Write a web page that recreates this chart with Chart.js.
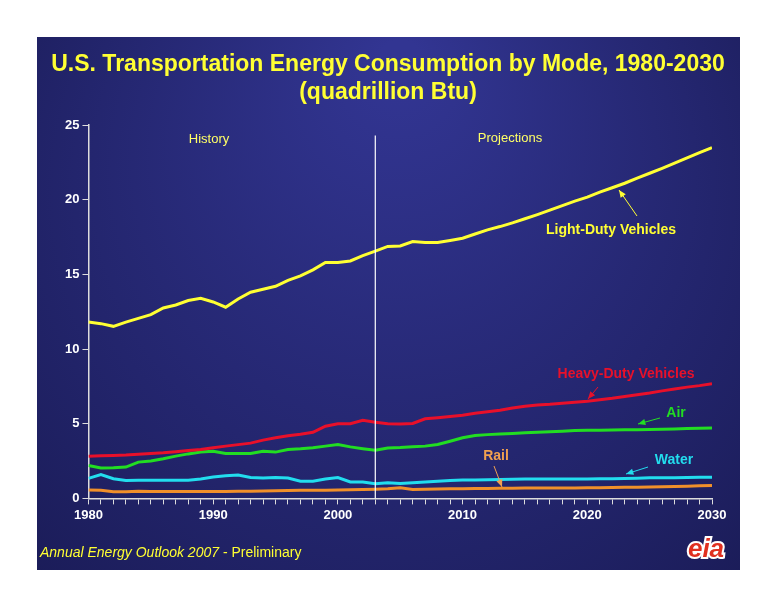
<!DOCTYPE html>
<html><head><meta charset="utf-8">
<script src="https://cdn.jsdelivr.net/npm/chart.js@4.4.1/dist/chart.umd.min.js"></script>
<style>html,body{margin:0;padding:0;background:#fff}</style>
</head><body><canvas id="c" width="776" height="600"></canvas>
<script>
const years=[];for(let y=1980;y<=2030;y++)years.push(y);
const lightDuty=[11.81,11.7,11.52,11.8,12.05,12.3,12.75,12.95,13.25,13.4,13.15,12.8,13.35,13.8,14.0,14.2,14.6,14.9,15.3,15.8,15.8,15.9,16.25,16.55,16.87,16.9,17.2,17.13,17.13,17.27,17.42,17.7,17.98,18.2,18.45,18.72,19.0,19.3,19.6,19.9,20.17,20.5,20.8,21.1,21.45,21.77,22.1,22.45,22.8,23.15,23.48];
const heavyDuty=[2.83,2.85,2.87,2.9,2.95,3.0,3.05,3.12,3.2,3.28,3.39,3.5,3.6,3.7,3.9,4.06,4.2,4.3,4.43,4.83,4.99,5.0,5.23,5.1,5.0,4.98,5.02,5.33,5.4,5.48,5.57,5.7,5.8,5.9,6.05,6.17,6.25,6.3,6.37,6.43,6.5,6.6,6.7,6.82,6.94,7.06,7.2,7.32,7.45,7.55,7.67];
const air=[2.2,2.03,2.05,2.1,2.43,2.5,2.65,2.83,2.98,3.1,3.16,3.0,3.0,3.0,3.16,3.1,3.27,3.32,3.39,3.5,3.61,3.45,3.33,3.22,3.38,3.4,3.45,3.5,3.61,3.83,4.06,4.21,4.27,4.31,4.35,4.39,4.43,4.47,4.5,4.54,4.57,4.57,4.58,4.59,4.6,4.61,4.63,4.65,4.68,4.7,4.72];
const water=[1.34,1.6,1.32,1.2,1.22,1.22,1.22,1.22,1.22,1.3,1.43,1.52,1.56,1.4,1.37,1.4,1.37,1.15,1.15,1.3,1.4,1.1,1.1,0.98,1.05,1.0,1.05,1.1,1.15,1.2,1.23,1.24,1.25,1.27,1.28,1.3,1.3,1.3,1.3,1.3,1.3,1.31,1.32,1.33,1.35,1.38,1.38,1.39,1.4,1.41,1.42];
const rail=[0.56,0.55,0.45,0.45,0.48,0.46,0.46,0.46,0.47,0.47,0.47,0.47,0.48,0.48,0.5,0.52,0.53,0.54,0.55,0.55,0.56,0.58,0.6,0.62,0.65,0.71,0.6,0.62,0.63,0.64,0.65,0.66,0.67,0.68,0.68,0.69,0.69,0.7,0.7,0.7,0.71,0.72,0.73,0.74,0.75,0.76,0.78,0.8,0.82,0.85,0.87];
const yTicks=[0,5,10,15,20,25];
const xLabelYears=[1980,1990,2000,2010,2020,2030];
const splitYear=2003;
const pts=a=>a.map((v,i)=>({x:years[i],y:v}));
const ds=(l,d,c)=>({label:l,data:pts(d),borderColor:c,borderWidth:3,pointRadius:0,tension:0,fill:false});
const deco={id:'deco',
beforeDraw(ch){const c=ch.ctx;c.save();c.fillStyle='#fff';c.fillRect(0,0,776,600);
const g=c.createRadialGradient(400,60,20,388,300,600);g.addColorStop(0,'#323592');g.addColorStop(1,'#15164a');
c.fillStyle=g;c.fillRect(37,37,703,533);
c.textAlign='center';c.textBaseline='middle';c.fillStyle='#ffff33';c.font='bold 23px Arial, "Liberation Sans"';
c.fillText('U.S. Transportation Energy Consumption by Mode, 1980-2030',388,65);c.fillText('(quadrillion Btu)',388,93);
c.restore();},
afterDatasetsDraw(ch){const c=ch.ctx,x=ch.scales.x,y=ch.scales.y;c.save();
const sx=x.getPixelForValue(splitYear);c.strokeStyle='#fff';c.lineWidth=1.2;c.beginPath();c.moveTo(sx,y.getPixelForValue(24.3));c.lineTo(sx,y.bottom);c.stroke();
c.textAlign='center';c.textBaseline='middle';
c.font='13px Arial, "Liberation Sans"';c.fillStyle='#ffff66';c.fillText('History',209,139);c.fillText('Projections',510,138);
const txt=(t,px,py,col)=>{c.font='bold 14px Arial, "Liberation Sans"';c.fillStyle=col;c.fillText(t,px,py);};
const arr=(x1,y1,x2,y2,col)=>{c.strokeStyle=col;c.fillStyle=col;c.lineWidth=1;c.beginPath();c.moveTo(x1,y1);c.lineTo(x2,y2);c.stroke();const a=Math.atan2(y2-y1,x2-x1);c.beginPath();c.moveTo(x2,y2);c.lineTo(x2-8*Math.cos(a-0.4),y2-8*Math.sin(a-0.4));c.lineTo(x2-8*Math.cos(a+0.4),y2-8*Math.sin(a+0.4));c.closePath();c.fill();};
txt('Light-Duty Vehicles',611,230,'#ffff33');arr(637,216,619,190,'#ffff33');
txt('Heavy-Duty Vehicles',626,374,'#e8102a');arr(598,387,588,399,'#e8102a');
txt('Air',676,413,'#22dd22');arr(660,418,638,424,'#22dd22');
txt('Rail',496,456,'#f0a050');arr(494,466,502,487,'#f0a050');
txt('Water',674,460,'#22ddee');arr(648,467,626,474,'#22ddee');
c.textAlign='left';c.fillStyle='#ffff33';c.font='italic 14px Arial, "Liberation Sans"';c.fillText('Annual Energy Outlook 2007',40,553);
const w=c.measureText('Annual Energy Outlook 2007 ').width;c.font='14px Arial, "Liberation Sans"';c.fillText('- Preliminary',40+w,553);
c.textAlign='center';c.font='italic bold 26px Arial, "Liberation Sans"';c.strokeStyle='#ffffff';c.lineWidth=4;c.strokeText('eia',706,550);c.fillStyle='#e03020';c.fillText('eia',706,550);
c.restore();}};
new Chart(document.getElementById('c'),{type:'line',
data:{datasets:[ds('Light-Duty Vehicles',lightDuty,'#ffff33'),ds('Heavy-Duty Vehicles',heavyDuty,'#e8102a'),ds('Air',air,'#22dd22'),ds('Water',water,'#22ddee'),ds('Rail',rail,'#f0902a')]},
options:{responsive:false,animation:false,devicePixelRatio:1,
layout:{padding:{left:62,right:64,top:125,bottom:74}},
plugins:{legend:{display:false},tooltip:{enabled:false},title:{display:false}},
scales:{x:{type:'linear',min:1980,max:2030,border:{color:'#ddd',width:1.5},
grid:{drawOnChartArea:false,color:'#ddd',tickLength:6},
ticks:{stepSize:1,autoSkip:false,maxRotation:0,color:'#fff',font:{family:'Arial',size:13,weight:'bold'},callback:v=>xLabelYears.includes(v)?String(v):''}},
y:{min:0,max:25,afterBuildTicks:s=>{s.ticks=yTicks.map(v=>({value:v}));},border:{color:'#ddd',width:1.5},
grid:{drawOnChartArea:false,color:'#ddd',tickLength:6},ticks:{color:'#fff',font:{family:'Arial',size:13,weight:'bold'}}}}},
plugins:[deco]});
</script></body></html>
